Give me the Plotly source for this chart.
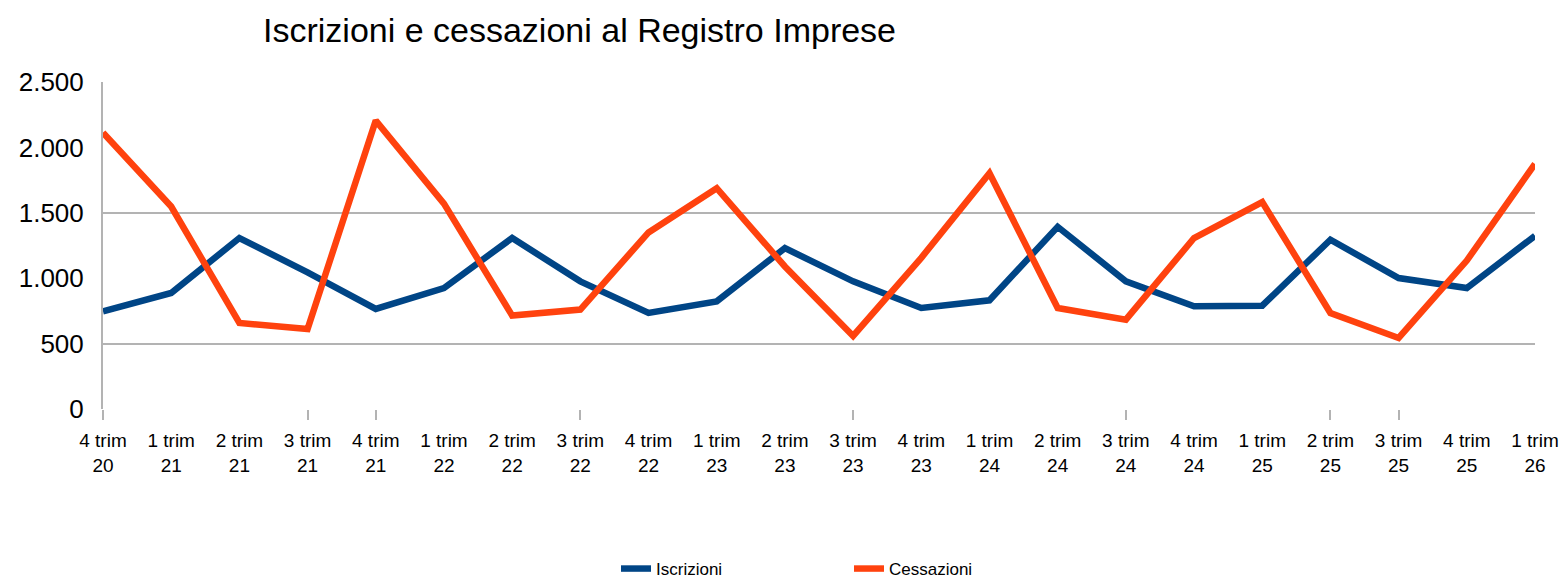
import plotly.graph_objects as go

quarters = ["4 trim 20", "1 trim 21", "2 trim 21", "3 trim 21", "4 trim 21",
            "1 trim 22", "2 trim 22", "3 trim 22", "4 trim 22",
            "1 trim 23", "2 trim 23", "3 trim 23", "4 trim 23",
            "1 trim 24", "2 trim 24", "3 trim 24", "4 trim 24",
            "1 trim 25", "2 trim 25", "3 trim 25", "4 trim 25",
            "1 trim 26"]
iscrizioni = [747, 887, 1307, 1045, 765, 925, 1307, 976, 734, 823, 1230,
              976, 772, 831, 1393, 976, 785, 790, 1294, 1001, 925, 1324]
cessazioni = [2113, 1548, 658, 612, 2205, 1570, 714, 760, 1350, 1688, 1090,
              558, 1156, 1803, 772, 683, 1307, 1582, 734, 543, 1135, 1874]
y_ticks = [0, 500, 1000, 1500, 2000, 2500]
y_ticktext = ["0", "500", "1.000", "1.500", "2.000", "2.500"]
grid_values = [500, 1500]
tick_quarters = ["4 trim 20", "3 trim 21", "4 trim 21", "3 trim 22",
                 "3 trim 23", "3 trim 24", "2 trim 25", "3 trim 25"]

idx = list(range(len(quarters)))
labels = [q.rsplit(" ", 1)[0] + "<br>" + q.rsplit(" ", 1)[1] for q in quarters]
tick_idx = [quarters.index(q) for q in tick_quarters]

FONT = "Liberation Sans, Arial, sans-serif"

fig = go.Figure()
fig.add_trace(go.Scatter(x=idx, y=iscrizioni, name="Iscrizioni", mode="lines",
                         line=dict(color="#004586", width=6.5)))
fig.add_trace(go.Scatter(x=idx, y=cessazioni, name="Cessazioni", mode="lines",
                         line=dict(color="#ff420e", width=6.5)))

fig.update_layout(
    width=1563, height=580, autosize=False,
    paper_bgcolor="white", plot_bgcolor="white",
    margin=dict(l=103, r=28, t=82, b=170.5, autoexpand=False),
    font=dict(family=FONT, color="#000000"),
    title=dict(text="Iscrizioni e cessazioni al Registro Imprese",
               x=263/1563, xanchor="left", xref="container",
               y=1-30/580, yanchor="middle", yref="container",
               font=dict(size=34, family=FONT, color="#000000")),
    xaxis=dict(range=[0, len(quarters)-1], tickmode="array", tickvals=idx,
               ticktext=labels, showgrid=False, zeroline=False, showline=False,
               ticks="", ticklabelstandoff=18,
               tickfont=dict(size=19, family=FONT, color="#000000")),
    xaxis2=dict(range=[0, len(quarters)-1], overlaying="x", side="bottom",
                tickmode="array", tickvals=tick_idx, showticklabels=False,
                ticks="outside", ticklen=10, tickcolor="#b3b3b3", tickwidth=2,
                showgrid=False, zeroline=False, showline=False, anchor="y"),
    yaxis=dict(range=[0, 2500], tickmode="array", tickvals=y_ticks,
               ticktext=y_ticktext, showgrid=False, zeroline=False,
               showline=True, linecolor="#b3b3b3", linewidth=2,
               ticks="", ticklabelstandoff=12,
               tickfont=dict(size=26, family=FONT, color="#000000")),
    yaxis2=dict(range=[0, 2500], overlaying="y", tickmode="array",
                tickvals=grid_values, showticklabels=False, showgrid=True,
                gridcolor="#b3b3b3", gridwidth=2, zeroline=False,
                showline=False, anchor="x"),
    legend=dict(orientation="h", x=616/1563, xanchor="left", xref="container",
                y=1-569/580, yanchor="middle", yref="container",
                font=dict(size=17, family=FONT, color="#000000"),
                entrywidth=188, entrywidthmode="pixels",
                traceorder="normal"),
    showlegend=True,
)
# invisible helper trace so overlay axes render
fig.add_trace(go.Scatter(x=[0], y=[0], xaxis="x2", yaxis="y2", mode="markers",
                         marker=dict(opacity=0), showlegend=False, hoverinfo="skip"))

fig.write_html("out.html",
               config={"responsive": False, "displayModeBar": False},
               post_script="document.body.style.margin='0';document.body.style.padding='0';document.body.style.overflow='hidden';")
